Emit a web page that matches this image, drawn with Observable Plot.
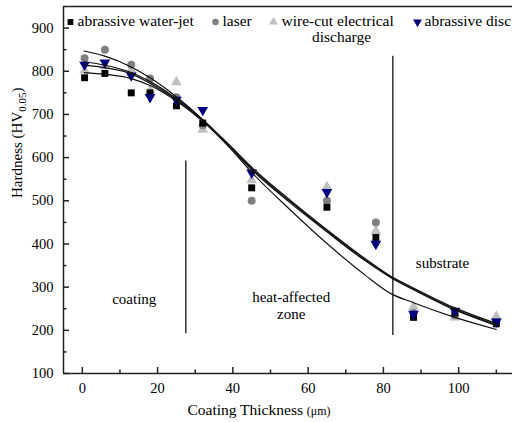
<!DOCTYPE html>
<html><head><meta charset="utf-8">
<script src="https://cdn.jsdelivr.net/npm/d3@7"></script>
<script src="https://cdn.jsdelivr.net/npm/@observablehq/plot@0.6"></script>
<style>
body{margin:0;background:#fff}
#chart svg, #chart svg text{font-family:"Liberation Serif","Times New Roman",serif !important;}
</style>
</head><body><div id="chart"></div>
<script>
// Measured points
const thickness = [0.6, 6, 13, 18, 25, 32, 45, 65, 78, 88, 99, 110];
const waterJet = [785, 795, 750, 750, 720, 680, 530, 485, 415, 230, 240, 215];
const laser    = [830, 850, 815, 783, 740, 675, 500, 500, 450, 240, 235, 220];
const wireCut  = [802, 812, 803, 755, 775, 665, 548, 532, 430, 255, 230, 232];
const disc     = [815, 820, 790, 740, 734, 710, 565, 520, 400, 238, 245, 220];

// Fitted curves
const curveX = [0.5, 6, 13, 18, 25, 32, 39, 45, 55, 65, 75, 82, 88, 99, 110];
const fitA = [847, 835, 810, 785, 741, 688, 625, 566, 481, 401, 329, 285, 264, 230, 202];
const fitB = [822, 814, 797, 776, 737, 688, 630, 578, 503, 433, 367, 325, 298, 252, 216];
const fitC = [814, 808, 794, 772, 734, 686, 628, 575, 500, 430, 364, 323, 296, 249, 213];
const fitD = [797, 793, 783, 767, 731, 684, 625, 572, 497, 428, 362, 322, 294, 247, 211];

const seriesNames = ["abrassive water-jet", "laser", "wire-cut electrical", "abrassive disc"];
const seriesColors = ["#000000", "#808080", "#c0c0c0", "#00007f"];

const xMajor = [0, 20, 40, 60, 80, 100];
const xMinor = [10, 30, 50, 70, 90, 110];
const yMajor = [100, 200, 300, 400, 500, 600, 700, 800, 900];
const yMinor = [150, 250, 350, 450, 550, 650, 750, 850];

const zoneBounds = [{x: 27.5, y1: 192, y2: 592}, {x: 82.5, y1: 188, y2: 835}];
const zoneLabels = [
  {x: 13.8, y: 273, text: "coating"},
  {x: 55.5, y: 258, text: "heat-affected\nzone"},
  {x: 95.7, y: 356, text: "substrate"}
];

const W = 512, H = 422, mL = 63, mR = 0, mT = 6, mB = 49;
const fw = W - mL - mR, fh = H - mT - mB;
const font = "Liberation Serif, Times New Roman, serif";

const pts = [];
[waterJet, laser, wireCut, disc].forEach((arr, s) => arr.forEach((v, i) => pts.push({x: thickness[i], y: v, s})));
const fits = [];
[fitA, fitB, fitC, fitD].forEach((arr, s) => arr.forEach((v, i) => fits.push({x: curveX[i], y: v, s})));

const order = [2, 1, 0, 3];
const symbolOf = s => s === 1 ? "circle" : s === 0 ? "square" : "triangle";

const markerMarks = order.map(s => Plot.dot(pts.filter(d => d.s === s), {
  x: "x", y: "y", symbol: symbolOf(s), r: s === 0 ? 3.9 : 4, fill: seriesColors[s], stroke: "none",
  rotate: s === 3 ? 180 : 0
}));

// legend layout (screen offsets from top-left of frame)
const legendSym = [7, 152, 210, 354];
const legendTxt = [14, 159, 218, 361];
const legendMarks = [];
seriesNames.forEach((name, s) => {
  legendMarks.push(Plot.dot([s], {frameAnchor: "top-left", dx: legendSym[s], dy: 15.5,
    symbol: symbolOf(s), r: 3.3, fill: seriesColors[s], stroke: "none", rotate: s === 3 ? 180 : 0}));
  legendMarks.push(Plot.text([name], {frameAnchor: "top-left", dx: legendTxt[s], dy: 15, lineAnchor: "middle",
    textAnchor: "start", fontSize: 15.5, fill: "#000", fontFamily: font}));
});
legendMarks.push(Plot.text(["discharge"], {frameAnchor: "top-left", dx: 278, dy: 31, lineAnchor: "middle",
  textAnchor: "middle", fontSize: 15.5, fill: "#000", fontFamily: font}));

const chart = Plot.plot({
  width: W, height: H,
  marginLeft: mL, marginRight: mR, marginTop: mT, marginBottom: mB,
  style: {fontFamily: font, background: "#fff"},
  x: {domain: [-5, 114.3]},
  y: {domain: [100, 950]},
  marks: [
    Plot.axisX({ticks: xMajor, tickSize: 0, tickPadding: 9, fontSize: 14.5, fill: "#000", label: null}),
    Plot.axisY({ticks: yMajor, tickSize: 0, tickPadding: 10, fontSize: 14.5, fill: "#000", label: null}),
    // ticks (inward)
    Plot.ruleX(xMajor, {stroke: "#222", strokeWidth: 1.5, insetTop: fh - 6}),
    Plot.ruleX(xMinor, {stroke: "#222", strokeWidth: 1.5, insetTop: fh - 3.5}),
    Plot.ruleY(yMajor, {stroke: "#222", strokeWidth: 1.5, insetRight: fw - 6}),
    Plot.ruleY(yMinor, {stroke: "#222", strokeWidth: 1.5, insetRight: fw - 3.5}),
    // frame
    Plot.ruleX([-5], {stroke: "#222", strokeWidth: 1.5}),
    Plot.ruleY([100], {stroke: "#222", strokeWidth: 1.5}),
    Plot.ruleY([950], {stroke: "#222", strokeWidth: 1.5}),
    // zone boundaries
    Plot.ruleX(zoneBounds, {x: "x", y1: "y1", y2: "y2", stroke: "#333", strokeWidth: 1.5}),
    Plot.text(zoneLabels, {x: "x", y: "y", text: "text", fontSize: 15, fill: "#000", lineHeight: 1.15, fontFamily: font}),
    ...markerMarks,
    Plot.line(fits, {x: "x", y: "y", z: "s", curve: "monotone-x", stroke: "#111", strokeWidth: 1.2}),
    ...legendMarks,
    // axis labels
    Plot.text(["Hardness (HV0.05)"], {frameAnchor: "left", dx: -46, dy: 8, rotate: -90, lineAnchor: "middle", fontSize: 15, fill: "#000", fontFamily: font}),
    Plot.text(["Coating Thickness (μm)"], {frameAnchor: "bottom", dx: -29, dy: 37, lineAnchor: "middle", fontSize: 15.5, fill: "#000", fontFamily: font})
  ]
});
document.getElementById("chart").appendChild(chart);

// subscript / small unit formatting
chart.querySelectorAll("text").forEach(t => {
  if (t.textContent === "Hardness (HV0.05)") {
    t.textContent = "";
    const a = document.createElementNS("http://www.w3.org/2000/svg", "tspan"); a.textContent = "Hardness (HV";
    const b = document.createElementNS("http://www.w3.org/2000/svg", "tspan"); b.textContent = "0.05"; b.setAttribute("dy", "4"); b.setAttribute("font-size", "11");
    const c = document.createElementNS("http://www.w3.org/2000/svg", "tspan"); c.textContent = ")"; c.setAttribute("dy", "-4");
    t.append(a, b, c);
  } else if (t.textContent === "Coating Thickness (μm)") {
    t.textContent = "";
    const a = document.createElementNS("http://www.w3.org/2000/svg", "tspan"); a.textContent = "Coating Thickness ";
    const b = document.createElementNS("http://www.w3.org/2000/svg", "tspan"); b.textContent = "(μm)"; b.setAttribute("font-size", "12");
    t.append(a, b);
  }
});
</script>
</body></html>
